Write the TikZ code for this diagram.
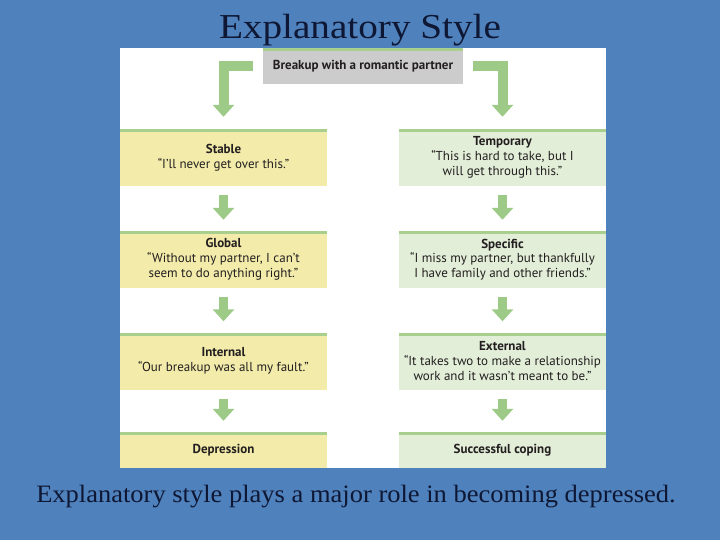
\documentclass[tikz,border=0pt]{standalone}
\usepackage{fontspec}
\setmainfont{Liberation Serif}
\newfontfamily\diafont{PT Sans}
\usetikzlibrary{arrows.meta}
\definecolor{bgblue}{HTML}{4F81BD}
\definecolor{titlecol}{HTML}{0E1733}
\definecolor{yelfill}{HTML}{F2EBAA}
\definecolor{grnfill}{HTML}{E2EED8}
\definecolor{grayfill}{HTML}{CCCCCC}
\definecolor{topline}{HTML}{A8CF8E}
\definecolor{arrowgreen}{HTML}{9DCB87}
\definecolor{txtcol}{HTML}{231F20}
\tikzset{
  box/.style={minimum width=207pt, minimum height=57pt, inner sep=0pt, align=center,
    font=\diafont\fontsize{13}{14.8}\selectfont, text=txtcol,
    path picture={\fill[topline] (path picture bounding box.north west) rectangle ([yshift=-3pt]path picture bounding box.north east);}},
  ybox/.style={box, fill=yelfill},
  gbox/.style={box, fill=grnfill},
  shortbox/.style={minimum height=36pt},
  flow/.style={draw=arrowgreen, line width=9pt, -{Triangle[width=21pt,length=12pt]}},
  bigflow/.style={draw=arrowgreen, line width=10pt, line join=miter, -{Triangle[width=21pt,length=12pt]}},
}
\begin{document}
\begin{tikzpicture}[x=1pt,y=-1pt]
\fill[bgblue] (0,0) rectangle (720,540);
\useasboundingbox (0,0) rectangle (720,540);
\fill[white] (120,48) rectangle (606,468);
\node[font=\fontsize{35}{38}\selectfont, text=titlecol, inner sep=0pt] (title) at (360,30) {\scalebox{1.12}[1]{Explanatory Style}};
\node[font=\fontsize{25}{28}\selectfont, text=titlecol, inner sep=0pt] (caption) at (356,497) {\scalebox{1.06}[1]{Explanatory style plays a major role in becoming depressed.}};
\node[box, fill=grayfill, minimum width=200pt, minimum height=36pt] (top) at (363,66) {\bfseries Breakup with a romantic partner};
\node[ybox] (s1) at (223.5,157.5) {\bfseries Stable\\“I’ll never get over this.”};
\node[ybox] (s2) at (223.5,259.5) {\bfseries Global\\“Without my partner, I can’t\\seem to do anything right.”};
\node[ybox] (s3) at (223.5,361) {\bfseries Internal\\“Our breakup was all my fault.”};
\node[ybox, shortbox] (s4) at (223.5,450) {\bfseries Depression};
\node[gbox] (t1) at (502.5,157.5) {\bfseries Temporary\\“This is hard to take, but I\\will get through this.”};
\node[gbox] (t2) at (502.5,259.5) {\bfseries Specific\\“I miss my partner, but thankfully\\I have family and other friends.”};
\node[gbox] (t3) at (502.5,361) {\bfseries External\\“It takes two to make a relationship\\work and it wasn’t meant to be.”};
\node[gbox, shortbox] (t4) at (502.5,450) {\bfseries Successful coping};
\draw[bigflow] ([xshift=-10pt]top.west) -| ([yshift=12pt]s1.north);
\draw[bigflow] ([xshift=10pt]top.east) -| ([yshift=12pt]t1.north);
\foreach \a/\b in {s1/s2,s2/s3,s3/s4,t1/t2,t2/t3,t3/t4}{
  \draw[flow] ([yshift=-9pt]\a.south) -- ([yshift=11pt]\b.north);
}
\end{tikzpicture}
\end{document}
